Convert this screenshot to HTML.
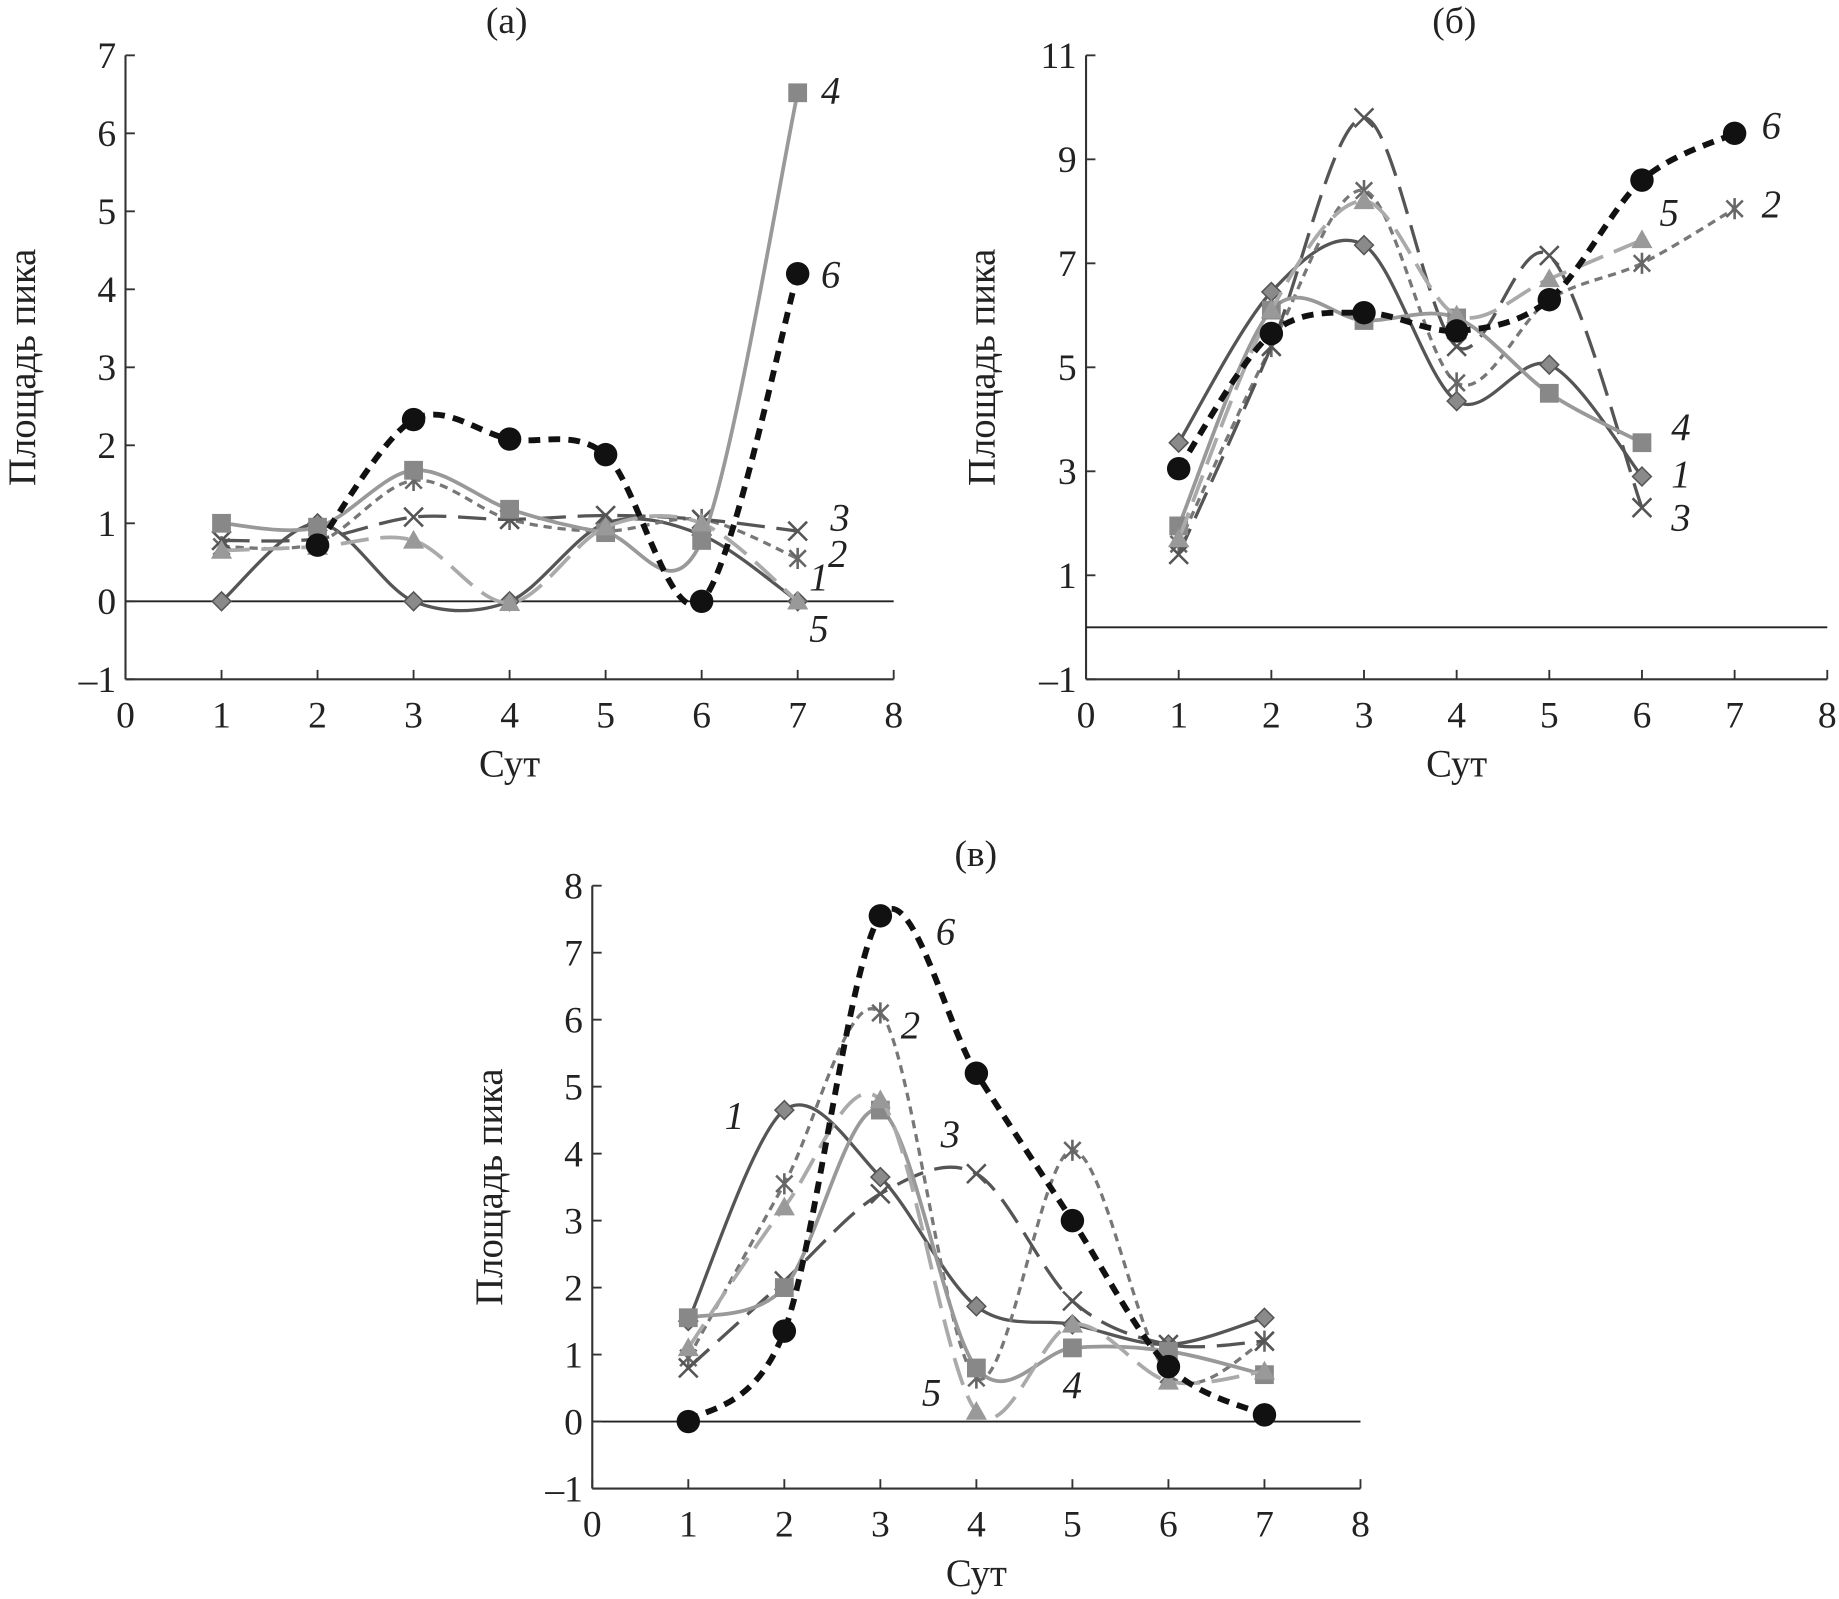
<!DOCTYPE html>
<html><head><meta charset="utf-8"><style>
html,body{margin:0;padding:0;background:#fff}
svg{display:block}
text{font-family:"Liberation Serif",serif;fill:#222}
</style></head><body>
<svg id="svg" width="1839" height="1599" viewBox="0 0 1568 1363" xmlns="http://www.w3.org/2000/svg"></svg>
<script>
const days = [1,2,3,4,5,6,7];
// Panel (a)
const a1 = [0,1.0,0,0,1.0,0.85,0];
const a2 = [0.7,0.75,1.55,1.05,0.9,1.05,0.55];
const a3 = [0.78,0.8,1.08,1.05,1.1,1.05,0.9];
const a4 = [1.0,0.95,1.68,1.18,0.88,0.78,6.52];
const a5 = [0.65,0.7,0.78,-0.02,0.95,1.0,0];
const a6 = [null,0.72,2.33,2.08,1.88,0,4.2];
// Panel (б)
const b1 = [3.55,6.45,7.35,4.35,5.05,2.9,null];
const b2 = [1.6,5.4,8.4,4.7,6.3,7.0,8.05];
const b3 = [1.4,5.4,9.8,5.4,7.15,2.3,null];
const b4 = [1.95,6.1,5.9,5.95,4.5,3.55,null];
const b5 = [1.7,6.1,8.2,6.0,6.7,7.45,null];
const b6 = [3.05,5.65,6.05,5.7,6.3,8.6,9.5];
// Panel (в)
const c1 = [1.5,4.65,3.65,1.72,1.45,1.15,1.55];
const c2 = [0.95,3.55,6.1,0.65,4.05,0.7,1.2];
const c3 = [0.8,2.1,3.4,3.7,1.8,1.15,1.2];
const c4 = [1.55,2.0,4.65,0.8,1.1,1.05,0.7];
const c5 = [1.1,3.2,4.8,0.15,1.45,0.6,0.75];
const c6 = [0,1.35,7.55,5.2,3.0,0.82,0.1];
const xTicks = [0,1,2,3,4,5,6,7,8];
const yTicksA = [-1,0,1,2,3,4,5,6,7];
const yTicksB = [-1,1,3,5,7,9,11];
const yTicksC = [-1,0,1,2,3,4,5,6,7,8];

const NS="http://www.w3.org/2000/svg";
const svg=document.getElementById('svg');
function el(tag,attrs,parent){const e=document.createElementNS(NS,tag);for(const k in attrs)e.setAttribute(k,attrs[k]);(parent||svg).appendChild(e);return e;}

const styles={
 1:{c:'#555',w:2.8,d:'',m:'diamond',mc:'#8a8a8a'},
 2:{c:'#777',w:2.8,d:'7,5',m:'star',mc:'#666'},
 3:{c:'#555',w:2.8,d:'24,10',m:'x',mc:'#555'},
 4:{c:'#999',w:3.2,d:'',m:'square',mc:'#888'},
 5:{c:'#aaa',w:3.2,d:'24,10',m:'tri',mc:'#999'},
 6:{c:'#111',w:5,d:'10,7',m:'circle',mc:'#111'}
};

function panel(cfg){
 const g=el('g',{});
 
 
 const X=v=>cfg.x0+(v-0)/8*(cfg.x1-cfg.x0);
 const Y=v=>cfg.yB+(v-cfg.ymin)/(cfg.ymax-cfg.ymin)*(cfg.yT-cfg.yB);
 const ya=el('line',{x1:X(0),y1:cfg.yT,x2:X(0),y2:cfg.yB,stroke:'#333','stroke-width':1.8},g);
 
 const xa=el('line',{x1:X(0),y1:cfg.yB,x2:X(8),y2:cfg.yB,stroke:'#333','stroke-width':1.8},g);
 
 const zl=el('line',{x1:X(0),y1:Y(0),x2:X(8),y2:Y(0),stroke:'#222','stroke-width':1.6},g);
 
 xTicks.forEach(t=>{
  el('line',{x1:X(t),y1:cfg.yB,x2:X(t),y2:cfg.yB-8,stroke:'#333','stroke-width':1.6},g);
  const tx=el('text',{x:X(t),y:cfg.yB+41,'text-anchor':'middle','font-size':32},g);tx.textContent=t;
  
 });
 cfg.yt.forEach(t=>{
  el('line',{x1:X(0),y1:Y(t),x2:X(0)+8,y2:Y(t),stroke:'#333','stroke-width':1.6},g);
  const tx=el('text',{x:X(0)-8,y:Y(t)+11,'text-anchor':'end','font-size':32},g);tx.textContent=t<0?'\u2013'+(-t):t;
  
 });
 const xt=el('text',{x:(X(0)+X(8))/2,y:cfg.yB+83,'text-anchor':'middle','font-size':33},g);xt.textContent='Сут';
 
 const cy=(cfg.yT+cfg.yB)/2;
 const yt=el('text',{x:cfg.ytx,y:cy,'text-anchor':'middle','font-size':33,transform:`rotate(-90 ${cfg.ytx} ${cy})`},g);yt.textContent='Площадь пика';
 
 const tt=el('text',{x:cfg.tx,y:cfg.ty,'text-anchor':'middle','font-size':32},g);tt.textContent=cfg.title;
 
 cfg.series.forEach((vals,i)=>{
  const s=styles[i+1];
  const pts=[];vals.forEach((v,j)=>{if(v!==null)pts.push([X(days[j]),Y(v)]);});
  let d=`M${pts[0][0]},${pts[0][1]}`;
  for(let k=0;k<pts.length-1;k++){
   const p0=pts[k-1]||pts[k],p1=pts[k],p2=pts[k+1],p3=pts[k+2]||p2;
   const t=0.32;
   const c1=[p1[0]+(p2[0]-p0[0])*t/2,p1[1]+(p2[1]-p0[1])*t/2];
   const c2=[p2[0]-(p3[0]-p1[0])*t/2,p2[1]-(p3[1]-p1[1])*t/2];
   d+=` C${c1[0]},${c1[1]} ${c2[0]},${c2[1]} ${p2[0]},${p2[1]}`;
  }
  const line=el('path',{d:d,fill:'none',stroke:s.c,'stroke-width':s.w,'stroke-dasharray':s.d},g);
  
  
  pts.forEach(p=>{
   const [x,y]=p;let m;
   if(s.m==='diamond')m=el('path',{d:`M${x},${y-8}L${x+8},${y}L${x},${y+8}L${x-8},${y}Z`,fill:s.mc,stroke:'#555','stroke-width':1.3},g);
   else if(s.m==='square')m=el('rect',{x:x-8,y:y-8,width:16,height:16,fill:s.mc},g);
   else if(s.m==='tri')m=el('path',{d:`M${x},${y-9}L${x+9},${y+7}L${x-9},${y+7}Z`,fill:s.mc},g);
   else if(s.m==='circle')m=el('circle',{cx:x,cy:y,r:10,fill:s.mc},g);
   else if(s.m==='x')m=el('path',{d:`M${x-8},${y-8}L${x+8},${y+8}M${x+8},${y-8}L${x-8},${y+8}`,stroke:s.mc,'stroke-width':2.2},g);
   else m=el('path',{d:`M${x-7},${y-7}L${x+7},${y+7}M${x+7},${y-7}L${x-7},${y+7}M${x},${y-9}L${x},${y+9}`,stroke:s.mc,'stroke-width':2.2},g);
   
   
  });
 });
 cfg.labels.forEach(l=>{
  const t=el('text',{x:l[1],y:l[2],'font-size':33,'font-style':'italic'},g);t.textContent=l[0];
  
 });
}

panel({name:'panel-a',x0:107,x1:762,yT:47,yB:579,ymin:-1,ymax:7,yt:yTicksA,ytx:30,tx:432,ty:28,title:'(а)',
 series:[a1,a2,a3,a4,a5,a6],
 labels:[['4',700,88],['6',700,245],['3',708,452],['2',706,483],['1',690,503],['5',690,547]]});
panel({name:'panel-b',x0:926,x1:1558,yT:47,yB:579,ymin:-1,ymax:11,yt:yTicksB,ytx:848,tx:1240,ty:28,title:'(б)',
 series:[b1,b2,b3,b4,b5,b6],
 labels:[['6',1502,118],['5',1415,192],['2',1502,185],['4',1425,375],['1',1425,415],['3',1425,452]]});
panel({name:'panel-c',x0:505,x1:1160,yT:755,yB:1269,ymin:-1,ymax:8,yt:yTicksC,ytx:428,tx:832,ty:738,title:'(в)',
 series:[c1,c2,c3,c4,c5,c6],
 labels:[['6',798,805],['2',768,885],['1',618,962],['3',802,978],['5',786,1198],['4',906,1192]]});
</script>
</body></html>
